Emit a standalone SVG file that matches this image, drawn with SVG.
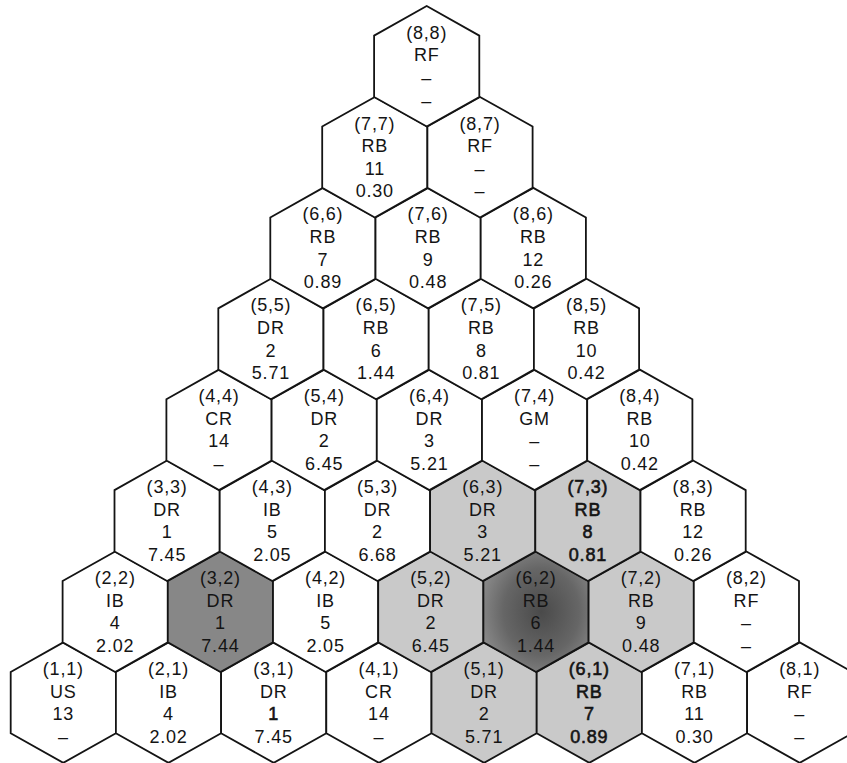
<svg xmlns="http://www.w3.org/2000/svg" xmlns:xlink="http://www.w3.org/1999/xlink" width="847" height="763" viewBox="0 0 847 763">
<defs>
<path id="hex" d="M0,-60.25 L52.6,-30.65 L52.6,30.65 L0,60.25 L-52.6,30.65 L-52.6,-30.65 Z"/>
<radialGradient id="g62" cx="0.55" cy="0.5" r="0.6">
<stop offset="0" stop-color="#4a4a4a"/>
<stop offset="0.6" stop-color="#666"/>
<stop offset="1" stop-color="#8a8a8a"/>
</radialGradient>
<style>
.hx{fill:#fff;stroke:#141414;stroke-width:1.8;stroke-linejoin:miter}
.lt{fill:#c9c9c9}
.dk{fill:#878787}
.dk2{fill:url(#g62)}
text{font-family:"Liberation Sans",Arial,sans-serif;font-size:18px;fill:#141414;text-anchor:middle;letter-spacing:0.8px}
.b{stroke:#141414;stroke-width:0.6px}
</style>
</defs>
<rect width="847" height="763" fill="#fff"/>
<g id="nodes">
<!-- row 1 -->
<g id="h1-1" transform="translate(63.3,702.6)"><use href="#hex" class="hx"/><text><tspan x="0" y="-27.7">(1,1)</tspan><tspan x="0" y="-5">US</tspan><tspan x="0" y="17.6">13</tspan><tspan x="0" y="40.3">–</tspan></text></g>
<g id="h2-1" transform="translate(168.5,702.6)"><use href="#hex" class="hx"/><text><tspan x="0" y="-27.7">(2,1)</tspan><tspan x="0" y="-5">IB</tspan><tspan x="0" y="17.6">4</tspan><tspan x="0" y="40.3">2.02</tspan></text></g>
<g id="h3-1" transform="translate(273.7,702.6)"><use href="#hex" class="hx"/><text><tspan x="0" y="-27.7">(3,1)</tspan><tspan x="0" y="-5">DR</tspan><tspan x="0" y="17.6" class="b">1</tspan><tspan x="0" y="40.3">7.45</tspan></text></g>
<g id="h4-1" transform="translate(378.9,702.6)"><use href="#hex" class="hx"/><text><tspan x="0" y="-27.7">(4,1)</tspan><tspan x="0" y="-5">CR</tspan><tspan x="0" y="17.6">14</tspan><tspan x="0" y="40.3">–</tspan></text></g>
<g id="h5-1" transform="translate(484.1,702.6)"><use href="#hex" class="hx lt"/><text><tspan x="0" y="-27.7">(5,1)</tspan><tspan x="0" y="-5">DR</tspan><tspan x="0" y="17.6">2</tspan><tspan x="0" y="40.3">5.71</tspan></text></g>
<g id="h6-1" transform="translate(589.3,702.6)"><use href="#hex" class="hx lt"/><text class="b"><tspan x="0" y="-27.7">(6,1)</tspan><tspan x="0" y="-5">RB</tspan><tspan x="0" y="17.6">7</tspan><tspan x="0" y="40.3">0.89</tspan></text></g>
<g id="h7-1" transform="translate(694.5,702.6)"><use href="#hex" class="hx"/><text><tspan x="0" y="-27.7">(7,1)</tspan><tspan x="0" y="-5">RB</tspan><tspan x="0" y="17.6">11</tspan><tspan x="0" y="40.3">0.30</tspan></text></g>
<g id="h8-1" transform="translate(799.7,702.6)"><use href="#hex" class="hx"/><text><tspan x="0" y="-27.7">(8,1)</tspan><tspan x="0" y="-5">RF</tspan><tspan x="0" y="17.6">–</tspan><tspan x="0" y="40.3">–</tspan></text></g>
<!-- row 2 -->
<g id="h2-2" transform="translate(115.2,611.7)"><use href="#hex" class="hx"/><text><tspan x="0" y="-27.7">(2,2)</tspan><tspan x="0" y="-5">IB</tspan><tspan x="0" y="17.6">4</tspan><tspan x="0" y="40.3">2.02</tspan></text></g>
<g id="h3-2" transform="translate(220.4,611.7)"><use href="#hex" class="hx dk"/><text><tspan x="0" y="-27.7">(3,2)</tspan><tspan x="0" y="-5">DR</tspan><tspan x="0" y="17.6">1</tspan><tspan x="0" y="40.3">7.44</tspan></text></g>
<g id="h4-2" transform="translate(325.6,611.7)"><use href="#hex" class="hx"/><text><tspan x="0" y="-27.7">(4,2)</tspan><tspan x="0" y="-5">IB</tspan><tspan x="0" y="17.6">5</tspan><tspan x="0" y="40.3">2.05</tspan></text></g>
<g id="h5-2" transform="translate(430.8,611.7)"><use href="#hex" class="hx lt"/><text><tspan x="0" y="-27.7">(5,2)</tspan><tspan x="0" y="-5">DR</tspan><tspan x="0" y="17.6">2</tspan><tspan x="0" y="40.3">6.45</tspan></text></g>
<g id="h6-2" transform="translate(536.0,611.7)"><use href="#hex" class="hx dk2"/><text><tspan x="0" y="-27.7">(6,2)</tspan><tspan x="0" y="-5">RB</tspan><tspan x="0" y="17.6">6</tspan><tspan x="0" y="40.3">1.44</tspan></text></g>
<g id="h7-2" transform="translate(641.2,611.7)"><use href="#hex" class="hx lt"/><text><tspan x="0" y="-27.7">(7,2)</tspan><tspan x="0" y="-5">RB</tspan><tspan x="0" y="17.6">9</tspan><tspan x="0" y="40.3">0.48</tspan></text></g>
<g id="h8-2" transform="translate(746.4,611.7)"><use href="#hex" class="hx"/><text><tspan x="0" y="-27.7">(8,2)</tspan><tspan x="0" y="-5">RF</tspan><tspan x="0" y="17.6">–</tspan><tspan x="0" y="40.3">–</tspan></text></g>
<!-- row 3 -->
<g id="h3-3" transform="translate(167.1,520.8)"><use href="#hex" class="hx"/><text><tspan x="0" y="-27.7">(3,3)</tspan><tspan x="0" y="-5">DR</tspan><tspan x="0" y="17.6">1</tspan><tspan x="0" y="40.3">7.45</tspan></text></g>
<g id="h4-3" transform="translate(272.3,520.8)"><use href="#hex" class="hx"/><text><tspan x="0" y="-27.7">(4,3)</tspan><tspan x="0" y="-5">IB</tspan><tspan x="0" y="17.6">5</tspan><tspan x="0" y="40.3">2.05</tspan></text></g>
<g id="h5-3" transform="translate(377.5,520.8)"><use href="#hex" class="hx"/><text><tspan x="0" y="-27.7">(5,3)</tspan><tspan x="0" y="-5">DR</tspan><tspan x="0" y="17.6">2</tspan><tspan x="0" y="40.3">6.68</tspan></text></g>
<g id="h6-3" transform="translate(482.7,520.8)"><use href="#hex" class="hx lt"/><text><tspan x="0" y="-27.7">(6,3)</tspan><tspan x="0" y="-5">DR</tspan><tspan x="0" y="17.6">3</tspan><tspan x="0" y="40.3">5.21</tspan></text></g>
<g id="h7-3" transform="translate(587.9,520.8)"><use href="#hex" class="hx lt"/><text class="b"><tspan x="0" y="-27.7">(7,3)</tspan><tspan x="0" y="-5">RB</tspan><tspan x="0" y="17.6">8</tspan><tspan x="0" y="40.3">0.81</tspan></text></g>
<g id="h8-3" transform="translate(693.1,520.8)"><use href="#hex" class="hx"/><text><tspan x="0" y="-27.7">(8,3)</tspan><tspan x="0" y="-5">RB</tspan><tspan x="0" y="17.6">12</tspan><tspan x="0" y="40.3">0.26</tspan></text></g>
<!-- row 4 -->
<g id="h4-4" transform="translate(219.0,429.9)"><use href="#hex" class="hx"/><text><tspan x="0" y="-27.7">(4,4)</tspan><tspan x="0" y="-5">CR</tspan><tspan x="0" y="17.6">14</tspan><tspan x="0" y="40.3">–</tspan></text></g>
<g id="h5-4" transform="translate(324.2,429.9)"><use href="#hex" class="hx"/><text><tspan x="0" y="-27.7">(5,4)</tspan><tspan x="0" y="-5">DR</tspan><tspan x="0" y="17.6">2</tspan><tspan x="0" y="40.3">6.45</tspan></text></g>
<g id="h6-4" transform="translate(429.4,429.9)"><use href="#hex" class="hx"/><text><tspan x="0" y="-27.7">(6,4)</tspan><tspan x="0" y="-5">DR</tspan><tspan x="0" y="17.6">3</tspan><tspan x="0" y="40.3">5.21</tspan></text></g>
<g id="h7-4" transform="translate(534.6,429.9)"><use href="#hex" class="hx"/><text><tspan x="0" y="-27.7">(7,4)</tspan><tspan x="0" y="-5">GM</tspan><tspan x="0" y="17.6">–</tspan><tspan x="0" y="40.3">–</tspan></text></g>
<g id="h8-4" transform="translate(639.8,429.9)"><use href="#hex" class="hx"/><text><tspan x="0" y="-27.7">(8,4)</tspan><tspan x="0" y="-5">RB</tspan><tspan x="0" y="17.6">10</tspan><tspan x="0" y="40.3">0.42</tspan></text></g>
<!-- row 5 -->
<g id="h5-5" transform="translate(270.9,339.0)"><use href="#hex" class="hx"/><text><tspan x="0" y="-27.7">(5,5)</tspan><tspan x="0" y="-5">DR</tspan><tspan x="0" y="17.6">2</tspan><tspan x="0" y="40.3">5.71</tspan></text></g>
<g id="h6-5" transform="translate(376.1,339.0)"><use href="#hex" class="hx"/><text><tspan x="0" y="-27.7">(6,5)</tspan><tspan x="0" y="-5">RB</tspan><tspan x="0" y="17.6">6</tspan><tspan x="0" y="40.3">1.44</tspan></text></g>
<g id="h7-5" transform="translate(481.3,339.0)"><use href="#hex" class="hx"/><text><tspan x="0" y="-27.7">(7,5)</tspan><tspan x="0" y="-5">RB</tspan><tspan x="0" y="17.6">8</tspan><tspan x="0" y="40.3">0.81</tspan></text></g>
<g id="h8-5" transform="translate(586.5,339.0)"><use href="#hex" class="hx"/><text><tspan x="0" y="-27.7">(8,5)</tspan><tspan x="0" y="-5">RB</tspan><tspan x="0" y="17.6">10</tspan><tspan x="0" y="40.3">0.42</tspan></text></g>
<!-- row 6 -->
<g id="h6-6" transform="translate(322.9,248.1)"><use href="#hex" class="hx"/><text><tspan x="0" y="-27.7">(6,6)</tspan><tspan x="0" y="-5">RB</tspan><tspan x="0" y="17.6">7</tspan><tspan x="0" y="40.3">0.89</tspan></text></g>
<g id="h7-6" transform="translate(428.1,248.1)"><use href="#hex" class="hx"/><text><tspan x="0" y="-27.7">(7,6)</tspan><tspan x="0" y="-5">RB</tspan><tspan x="0" y="17.6">9</tspan><tspan x="0" y="40.3">0.48</tspan></text></g>
<g id="h8-6" transform="translate(533.3,248.1)"><use href="#hex" class="hx"/><text><tspan x="0" y="-27.7">(8,6)</tspan><tspan x="0" y="-5">RB</tspan><tspan x="0" y="17.6">12</tspan><tspan x="0" y="40.3">0.26</tspan></text></g>
<!-- row 7 -->
<g id="h7-7" transform="translate(374.8,157.2)"><use href="#hex" class="hx"/><text><tspan x="0" y="-27.7">(7,7)</tspan><tspan x="0" y="-5">RB</tspan><tspan x="0" y="17.6">11</tspan><tspan x="0" y="40.3">0.30</tspan></text></g>
<g id="h8-7" transform="translate(480.0,157.2)"><use href="#hex" class="hx"/><text><tspan x="0" y="-27.7">(8,7)</tspan><tspan x="0" y="-5">RF</tspan><tspan x="0" y="17.6">–</tspan><tspan x="0" y="40.3">–</tspan></text></g>
<!-- row 8 -->
<g id="h8-8" transform="translate(426.7,66.3)"><use href="#hex" class="hx"/><text><tspan x="0" y="-27.7">(8,8)</tspan><tspan x="0" y="-5">RF</tspan><tspan x="0" y="17.6">–</tspan><tspan x="0" y="40.3">–</tspan></text></g>
</g>
</svg>
